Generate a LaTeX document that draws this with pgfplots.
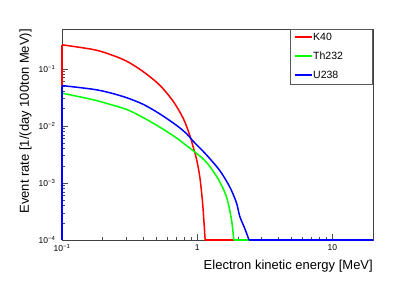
\documentclass[border=0pt]{standalone}
\usepackage{fontspec}
\setmainfont{Liberation Sans}
\usepackage{pgfplots}
\pgfplotsset{compat=1.18}
\definecolor{rootred}{RGB}{255,0,0}
\definecolor{rootgreen}{RGB}{0,255,0}
\definecolor{rootblue}{RGB}{0,0,255}
\newcommand{\sx}[1]{10\textsuperscript{#1}}
\newcommand{\lgd}[2]{\makebox[74pt][l]{\textcolor{#1}{\rule[0.28em]{17pt}{1.9pt}}\hspace{1.5pt}#2}}
\begin{document}
\begin{tikzpicture}
\begin{axis}[
  at={(0,0)}, anchor=south west,
  scale only axis, width=311pt, height=211pt,
  xmode=log, ymode=log,
  xmin=0.1, xmax=20, ymin=1e-4, ymax=0.5,
  xtick={0.1,1,10}, xticklabels={\sx{−1},1,10},
  ytick={1e-4,1e-3,1e-2,1e-1}, yticklabels={\sx{−4},\sx{−3},\sx{−2},\sx{−1}},
  tick align=inside, xtick pos=bottom, ytick pos=left,
  major tick length=6pt, minor tick length=3pt,
  tick style={black!70, line width=0.5pt},
  axis line style={black!75, line width=0.7pt},
  tick label style={font=\fontsize{8.5}{9}\selectfont},
  xticklabel style={yshift=-1pt},
  yticklabel style={xshift=-3pt},
  clip=false,
  xlabel={Electron kinetic energy [MeV]},
  ylabel={Event rate [1/(day 100ton MeV)]},
  label style={font=\fontsize{13}{14}\selectfont, inner sep=0pt},
  xlabel style={at={(axis description cs:1,-0.095)}, anchor=north east},
  ylabel style={at={(axis description cs:-0.097,1)}, anchor=south east},
  legend style={at={(rel axis cs:1,1)}, anchor=north east, draw=black!65, line width=0.6pt,
    font=\fontsize{10.5}{12}\selectfont, inner sep=2pt, row sep=6pt,
    column sep=0pt},
  legend cell align=left,
]
\addlegendimage{empty legend}
\addlegendentry{\lgd{rootred}{K40}}
\addlegendimage{empty legend}
\addlegendentry{\lgd{rootgreen}{Th232}}
\addlegendimage{empty legend}
\addlegendentry{\lgd{rootblue}{U238}}
% K40
\addplot[rootred, line width=1.5pt, smooth, tension=0.5, forget plot] coordinates {
(0.1,0.264)(0.171,0.218)(0.227,0.179)(0.30,0.137)(0.40,0.089)(0.53,0.0515)
(0.665,0.027)(0.79,0.0135)(0.883,0.0068)(0.934,0.0043)(0.99,0.0026)(1.047,0.00126)
(1.096,0.00046)(1.121,0.00022)(1.146,1e-4)};
\addplot[rootred, line width=1.5pt, forget plot] coordinates {(0.1,1e-4)(0.1,0.264)};
\addplot[rootred, line width=1.5pt, forget plot] coordinates {(1.146,1e-4)(20,1e-4)};
% Th232
\addplot[rootgreen, line width=1.5pt, smooth, tension=0.5, forget plot] coordinates {
(0.1,0.0375)(0.171,0.0287)(0.227,0.0238)(0.30,0.0195)(0.38,0.0149)(0.53,0.0095)
(0.70,0.0062)(0.835,0.0045)(0.99,0.0033)(1.173,0.0023)(1.429,0.00118)(1.648,0.00057)
(1.794,0.00023)(1.866,1e-4)};
\addplot[rootgreen, line width=1.5pt, forget plot] coordinates {(0.1,1e-4)(0.1,0.0375)};
\addplot[rootgreen, line width=1.5pt, forget plot] coordinates {(1.866,1e-4)(20,1e-4)};
% U238
\addplot[rootblue, line width=1.5pt, smooth, tension=0.5, forget plot] coordinates {
(0.1,0.051)(0.171,0.0438)(0.227,0.038)(0.30,0.0313)(0.40,0.0238)(0.53,0.0162)
(0.705,0.0102)(0.835,0.0073)(0.934,0.0054)(1.017,0.0044)(1.173,0.0031)(1.47,0.00165)
(1.743,0.00085)(1.953,0.00045)(2.066,0.00026)(2.249,0.00016)(2.42,1e-4)};
\addplot[rootblue, line width=1.5pt, forget plot] coordinates {(0.1,1e-4)(0.1,0.051)};
\addplot[rootblue, line width=1.5pt, forget plot] coordinates {(2.42,1e-4)(20,1e-4)};
\end{axis}
\pgfresetboundingbox
\useasboundingbox (-62pt,-43pt) rectangle (353pt,240pt);
\end{tikzpicture}
\end{document}
